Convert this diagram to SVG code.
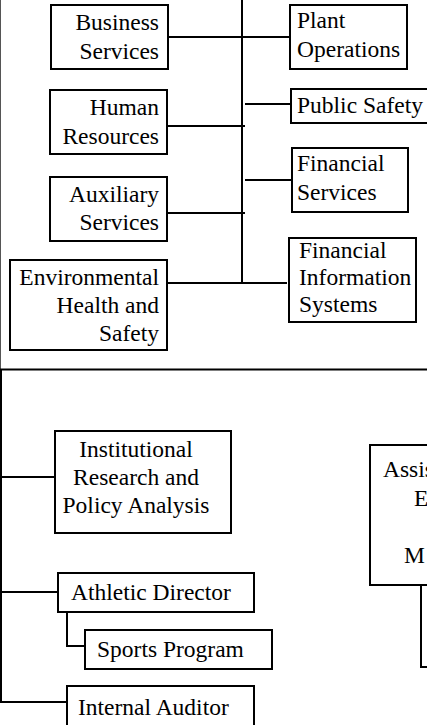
<svg xmlns="http://www.w3.org/2000/svg" width="427" height="725" viewBox="0 0 427 725">
<style>
.box{fill:#fff;stroke:#000;stroke-width:2}
.t{font-size:23.5px;fill:#000}
.r{text-anchor:end}
.c{text-anchor:middle}
.ln{stroke:#000;stroke-width:2;fill:none}
</style>
<rect width="427" height="725" fill="#fff"/>
<g id="frame">
<line x1="0.5" y1="0" x2="0.5" y2="370" stroke="#555" stroke-width="1"/>
<line x1="0" y1="369.5" x2="427" y2="369.5" class="ln"/>
</g>
<g id="connectors">
<line class="ln" x1="242" y1="0" x2="242" y2="283"/>
<line class="ln" x1="168" y1="37" x2="290" y2="37"/>
<line class="ln" x1="167" y1="126" x2="245" y2="126"/>
<line class="ln" x1="245" y1="104" x2="291" y2="104"/>
<line class="ln" x1="245" y1="180" x2="292" y2="180"/>
<line class="ln" x1="167" y1="213" x2="245" y2="213"/>
<line class="ln" x1="167" y1="283" x2="287" y2="283"/>
<line class="ln" x1="1" y1="370" x2="1" y2="703"/>
<line class="ln" x1="0" y1="477" x2="55" y2="477"/>
<line class="ln" x1="0" y1="592" x2="58" y2="592"/>
<polyline class="ln" points="67,612 67,646 85,646"/>
<line class="ln" x1="0" y1="702" x2="67" y2="702"/>
<polyline class="ln" points="421,585 421,667 427,667"/>
</g>
<g font-family="Liberation Serif, Times New Roman, DejaVu Serif, serif">
<g id="business-services"><rect class="box" x="51" y="5" width="117" height="64"/><text class="t r" x="159" y="29.5">Business</text><text class="t r" x="159" y="58.5">Services</text></g>
<g id="plant-operations"><rect class="box" x="290" y="5" width="117" height="64"/><text class="t" x="297" y="27.5">Plant</text><text class="t" x="297" y="56.5">Operations</text></g>
<g id="human-resources"><rect class="box" x="50" y="90" width="117" height="64"/><text class="t r" x="159" y="115">Human</text><text class="t r" x="159" y="143.5">Resources</text></g>
<g id="public-safety"><rect class="box" x="291" y="89" width="150" height="34"/><text class="t" x="297" y="112.5">Public Safety</text></g>
<g id="financial-services"><rect class="box" x="292" y="148" width="116" height="64"/><text class="t" x="297" y="171">Financial</text><text class="t" x="297" y="200">Services</text></g>
<g id="auxiliary-services"><rect class="box" x="50" y="177" width="117" height="64"/><text class="t r" x="159" y="202">Auxiliary</text><text class="t r" x="159" y="230">Services</text></g>
<g id="environmental-health-safety"><rect class="box" x="10" y="260" width="157" height="90"/><text class="t r" x="159" y="285">Environmental</text><text class="t r" x="159" y="313">Health and</text><text class="t r" x="159" y="341">Safety</text></g>
<g id="financial-information-systems"><rect class="box" x="289" y="238" width="127" height="84"/><text class="t" x="299" y="258">Financial</text><text class="t" x="299" y="285">Information</text><text class="t" x="299" y="312">Systems</text></g>
<g id="institutional-research"><rect class="box" x="55" y="431" width="176" height="102"/><text class="t c" x="136" y="457">Institutional</text><text class="t c" x="136" y="485">Research and</text><text class="t c" x="136" y="513">Policy Analysis</text></g>
<g id="assistant"><rect class="box" x="370" y="445" width="80" height="140"/><text class="t" x="383" y="477">Assis</text><text class="t" x="414" y="506">E</text><text class="t" x="404" y="563">M</text></g>
<g id="athletic-director"><rect class="box" x="58" y="573" width="196" height="39"/><text class="t" x="71" y="600">Athletic Director</text></g>
<g id="sports-program"><rect class="box" x="85" y="630" width="187" height="39"/><text class="t" x="97" y="657">Sports Program</text></g>
<g id="internal-auditor"><rect class="box" x="67" y="686" width="187" height="60"/><text class="t" x="78" y="715">Internal Auditor</text></g>
</g>
</svg>
